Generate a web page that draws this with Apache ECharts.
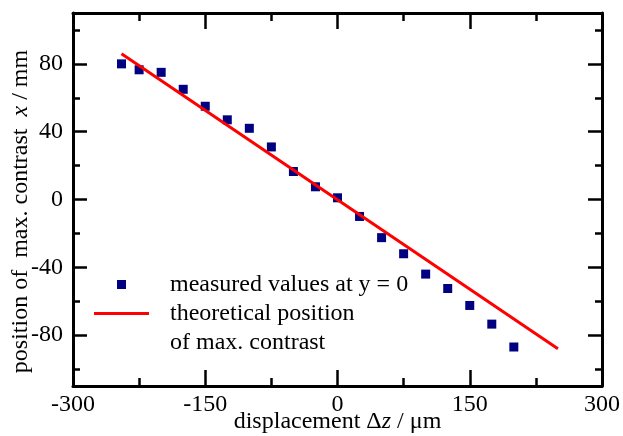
<!DOCTYPE html>
<html>
<head>
<meta charset="utf-8">
<script src="https://cdn.jsdelivr.net/npm/echarts@6/dist/echarts.min.js"></script>
<style>html,body{margin:0;padding:0;background:#fff}#c{width:623px;height:436px}</style>
</head>
<body>
<div id="c"></div>
<script>
// measured data
var displacement = [-245, -225, -200, -175, -150, -125, -100, -75, -50, -25, 0, 25, 50, 75, 100, 125, 150, 175, 200];
var measuredX = [80, 76.5, 75, 65, 55, 47, 42, 31, 16.5, 7.5, 1, -10, -22.5, -32, -44, -52.5, -62.5, -73.5, -87];
// theoretical line endpoints
var theoryDz = [-245, 250];
var theoryX = [86, -88];
// tick values
var xTicks = [-300, -150, 0, 150, 300];
var yMajorTicks = [-80, -40, 0, 40, 80];
var yMinorTicks = [-100, -60, -20, 20, 60, 100];

var seriesNames = ['measured values at y = 0', 'theoretical position\nof max. contrast'];

var font = '"Liberation Serif", "Times New Roman", serif';
var FS = 24;
var chart = echarts.init(document.getElementById('c'), null, {renderer: 'canvas'});

function yAx(pos, ticks, len, showLabel, showLine, name) {
  var a = {
    type: 'value', position: pos, min: -110, max: 110,
    axisLine: {show: showLine, onZero: false, lineStyle: {color: '#000', width: 3}},
    axisTick: {show: true, inside: true, length: len, customValues: ticks, lineStyle: {color: '#000', width: 2.5}},
    axisLabel: {show: showLabel, customValues: yMajorTicks, margin: 10, color: '#000', fontFamily: font, fontSize: FS},
    splitLine: {show: false}
  };
  if (name) {
    a.name = name;
    a.nameLocation = 'middle';
    a.nameGap = 40;
    a.nameMoveOverlap = false;
    a.nameTextStyle = {color: '#000', fontFamily: font, fontSize: FS, padding: [0, 24, 0, 0], rich: {i: {fontStyle: 'italic', fontFamily: font, fontSize: FS, color: '#000'}}};
  }
  return a;
}
function xAx(pos, showLabel, name) {
  var a = {
    type: 'value', position: pos, min: -300, max: 300, interval: 150,
    axisLine: {show: true, onZero: false, lineStyle: {color: '#000', width: 3}},
    axisTick: {show: true, inside: true, length: 16, lineStyle: {color: '#000', width: 2.5}},
    minorTick: {show: true, splitNumber: 2, length: 8, lineStyle: {color: '#000', width: 2.5}},
    axisLabel: {show: showLabel, margin: 7, color: '#000', fontFamily: font, fontSize: FS, customValues: xTicks},
    splitLine: {show: false}, minorSplitLine: {show: false}
  };
  if (name) {
    a.name = name;
    a.nameLocation = 'middle';
    a.nameGap = 24;
    a.nameMoveOverlap = false;
    a.nameTextStyle = {color: '#000', fontFamily: font, fontSize: FS, rich: {i: {fontStyle: 'italic', fontFamily: font, fontSize: FS, color: '#000'}}};
  }
  return a;
}

var option = {
  animation: false,
  backgroundColor: '#fff',
  textStyle: {fontFamily: font},
  grid: {left: 73, right: 21, top: 13, bottom: 50, containLabel: false, outerBoundsMode: 'none'},
  xAxis: [
    xAx('bottom', true, 'displacement \u0394{i|z} / \u03bcm'),
    xAx('top', false)
  ],
  yAxis: [
    yAx('left', yMajorTicks, 14, true, true, 'position of  max. contrast  {i|x} / mm'),
    yAx('left', yMinorTicks, 7, false, false),
    yAx('right', yMajorTicks, 14, false, true),
    yAx('right', yMinorTicks, 7, false, false)
  ],
  legend: {
    orient: 'vertical', left: 94, top: 270, padding: 0,
    itemWidth: 55, itemHeight: 9, itemGap: -29,
    textStyle: {fontFamily: font, fontSize: FS, color: '#000', lineHeight: 29, padding: [0, 0, 0, 16]},
    formatter: function (name) { return name === seriesNames[1] ? '\n' + name : name; },
    data: [
      {name: seriesNames[0], icon: 'path://M0,0H1V1H0Z'},
      {name: seriesNames[1], icon: 'path://M0,0H55V3H0Z'}
    ]
  },
  series: [
    {
      name: seriesNames[0], type: 'scatter', xAxisIndex: 0, yAxisIndex: 0,
      symbol: 'rect', symbolSize: 9,
      itemStyle: {color: '#000080', opacity: 1},
      data: displacement.map(function (d, i) { return [d, measuredX[i]]; }),
      z: 3
    },
    {
      name: seriesNames[1], type: 'line', xAxisIndex: 0, yAxisIndex: 0,
      symbol: 'none', lineStyle: {color: '#ff0000', width: 3}, itemStyle: {color: '#ff0000'},
      data: theoryDz.map(function (d, i) { return [d, theoryX[i]]; }),
      z: 4
    }
  ]
};
chart.setOption(option);
</script>
</body>
</html>
